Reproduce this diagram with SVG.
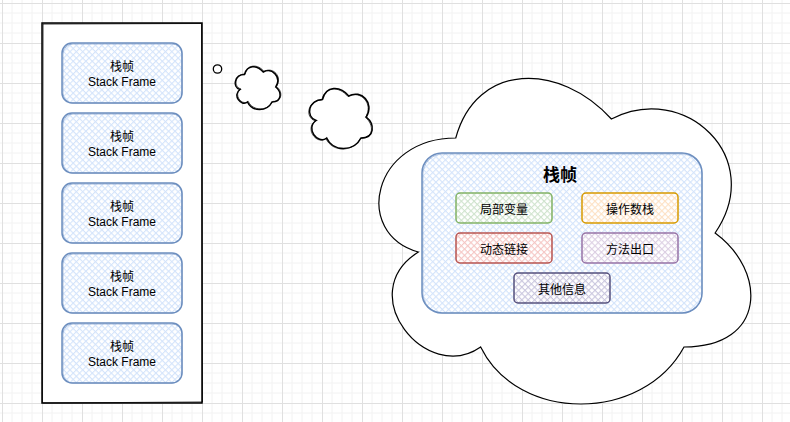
<svg xmlns="http://www.w3.org/2000/svg" width="790" height="422" viewBox="0 0 790 422">
<defs>
  <pattern id="grid" x="2" y="3" width="40" height="40" patternUnits="userSpaceOnUse">
    <path d="M10,0V40M20,0V40M30,0V40M0,10H40M0,20H40M0,30H40" stroke="#f2f2f2" stroke-width="1" fill="none"/>
    <path d="M0.5,0V40M0,0.5H40" stroke="#e0e0e0" stroke-width="1" fill="none"/>
  </pattern>
  <pattern id="hBlue" width="4.5" height="4.5" patternUnits="userSpaceOnUse" patternTransform="rotate(45)">
    <rect width="4.5" height="4.5" fill="#fff"/>
    <path d="M0,0.5H4.5M0.5,0V4.5" stroke="#d4e4fb" stroke-width="1.2"/>
  </pattern>
  <pattern id="hGreen" width="4.5" height="4.5" patternUnits="userSpaceOnUse" patternTransform="rotate(45)">
    <rect width="4.5" height="4.5" fill="#fff"/>
    <path d="M0,0.5H4.5M0.5,0V4.5" stroke="#cfe3cd" stroke-width="1.2"/>
  </pattern>
  <pattern id="hOrange" width="4.5" height="4.5" patternUnits="userSpaceOnUse" patternTransform="rotate(45)">
    <rect width="4.5" height="4.5" fill="#fff"/>
    <path d="M0,0.5H4.5M0.5,0V4.5" stroke="#fde1c4" stroke-width="1.2"/>
  </pattern>
  <pattern id="hRed" width="4.5" height="4.5" patternUnits="userSpaceOnUse" patternTransform="rotate(45)">
    <rect width="4.5" height="4.5" fill="#fff"/>
    <path d="M0,0.5H4.5M0.5,0V4.5" stroke="#f5c6c4" stroke-width="1.2"/>
  </pattern>
  <pattern id="hPurple" width="4.5" height="4.5" patternUnits="userSpaceOnUse" patternTransform="rotate(45)">
    <rect width="4.5" height="4.5" fill="#fff"/>
    <path d="M0,0.5H4.5M0.5,0V4.5" stroke="#dccfe3" stroke-width="1.2"/>
  </pattern>
  <pattern id="hSlate" width="4.5" height="4.5" patternUnits="userSpaceOnUse" patternTransform="rotate(45)">
    <rect width="4.5" height="4.5" fill="#fff"/>
    <path d="M0,0.5H4.5M0.5,0V4.5" stroke="#c9c6de" stroke-width="1.2"/>
  </pattern>
  <style>
    .t { font-family: "Liberation Sans", "Noto Sans CJK SC", sans-serif; font-size: 12px; fill: #000; text-anchor: middle; }
    .title { font-family: "Liberation Sans", "Noto Sans CJK SC", sans-serif; font-size: 17px; font-weight: bold; fill: #000; text-anchor: middle; }
    .frame { fill: url(#hBlue); stroke: #6c8ebf; stroke-width: 1.5; }
    .frame2 { fill: none; stroke: #6c8ebf; stroke-width: 0.8; opacity: 0.7; }
    .sk { fill: none; stroke: #000; }
    .cl { fill: #fff; stroke: #000; stroke-width: 1.5; }
    .cl2 { fill: none; stroke: #000; stroke-width: 0.9; opacity: 0.75; }
  </style>
</defs>

<rect width="790" height="422" fill="#fff"/>
<rect width="790" height="422" fill="url(#grid)"/>

<g id="stack">
  <rect x="42" y="23" width="160" height="380" fill="#fff" stroke="#000" stroke-width="1.5"/>
  <path class="sk" d="M43,24 L201.5,23.5 L202.5,402 L42.5,403 Z" stroke-width="0.8"/>
</g>

<g id="frame1">
  <rect class="frame" x="62" y="43" width="120" height="60" rx="10"/>
  <rect class="frame2" x="63" y="44" width="119" height="59" rx="10"/>
  <text class="t" x="122" y="71">栈帧</text>
  <text class="t" x="122" y="86">Stack Frame</text>
</g>
<g id="frame2">
  <rect class="frame" x="62" y="113" width="120" height="60" rx="10"/>
  <rect class="frame2" x="63" y="114" width="119" height="59" rx="10"/>
  <text class="t" x="122" y="141">栈帧</text>
  <text class="t" x="122" y="156">Stack Frame</text>
</g>
<g id="frame3">
  <rect class="frame" x="62" y="183" width="120" height="60" rx="10"/>
  <rect class="frame2" x="63" y="184" width="119" height="59" rx="10"/>
  <text class="t" x="122" y="211">栈帧</text>
  <text class="t" x="122" y="226">Stack Frame</text>
</g>
<g id="frame4">
  <rect class="frame" x="62" y="253" width="120" height="60" rx="10"/>
  <rect class="frame2" x="63" y="254" width="119" height="59" rx="10"/>
  <text class="t" x="122" y="281">栈帧</text>
  <text class="t" x="122" y="296">Stack Frame</text>
</g>
<g id="frame5">
  <rect class="frame" x="62" y="323" width="120" height="60" rx="10"/>
  <rect class="frame2" x="63" y="324" width="119" height="59" rx="10"/>
  <text class="t" x="122" y="351">栈帧</text>
  <text class="t" x="122" y="366">Stack Frame</text>
</g>

<g id="bubble1">
  <circle cx="217.5" cy="69" r="4.2" fill="#fff" stroke="#000" stroke-width="1.3"/>
</g>
<g id="bubble2">
  <path class="cl" d="M244.5,74.5 C234.5,74.5 232,87 240,89.5 C232,95 241,107 247.5,102 C252,112 267,112 272,102 C282,102 282,92 275.75,87 C282,77 272,67 263.25,72 C257,64.5 247,64.5 244.5,74.5 Z"/>
  <path class="cl2" transform="translate(0.8,-0.6)" d="M244.5,74.5 C234.5,74.5 232,87 240,89.5 C232,95 241,107 247.5,102 C252,112 267,112 272,102 C282,102 282,92 275.75,87 C282,77 272,67 263.25,72 C257,64.5 247,64.5 244.5,74.5 Z"/>
</g>
<g id="bubble3">
  <path class="cl" d="M322.5,99.5 C308.5,99.5 305,117 316.2,120.5 C305,128.2 317.6,145 326.7,138 C333,152 354,152 361,138 C375,138 375,124 366.25,117 C375,103 361,89 348.75,96 C340,85.5 326,85.5 322.5,99.5 Z"/>
  <path class="cl2" transform="translate(-0.8,0.5)" d="M322.5,99.5 C308.5,99.5 305,117 316.2,120.5 C305,128.2 317.6,145 326.7,138 C333,152 354,152 361,138 C375,138 375,124 366.25,117 C375,103 361,89 348.75,96 C340,85.5 326,85.5 322.5,99.5 Z"/>
</g>

<g id="bigCloud">
  <path d="M455.75,138 C372.75,138 352,233 418.4,252 C352,293.8 426.7,385 480.65,347 C518,423 642.5,423 684,347 C767,347 767,271 715.1,233 C767,157 684,81 611.4,119 C559.5,62 476.5,62 455.75,138 Z" fill="#fff" stroke="#000" stroke-width="1.2"/>
</g>

<g id="container">
  <rect x="422" y="153" width="280" height="160" rx="20" fill="url(#hBlue)" stroke="#6c8ebf" stroke-width="1.5"/>
  <rect x="423" y="154" width="279" height="159" rx="20" fill="none" stroke="#6c8ebf" stroke-width="0.8" opacity="0.6"/>
  <text class="title" x="560" y="181">栈帧</text>
</g>

<g id="local">
  <rect x="456" y="193" width="96" height="30" rx="4" fill="url(#hGreen)" stroke="#82b366" stroke-width="1.5"/>
  <text class="t" x="504" y="214">局部变量</text>
</g>
<g id="operand">
  <rect x="582" y="193" width="96" height="30" rx="4" fill="url(#hOrange)" stroke="#d79b00" stroke-width="1.5"/>
  <text class="t" x="630" y="214">操作数栈</text>
</g>
<g id="dynlink">
  <rect x="456" y="233" width="96" height="30" rx="4" fill="url(#hRed)" stroke="#b85450" stroke-width="1.5"/>
  <text class="t" x="504" y="254">动态链接</text>
</g>
<g id="exit">
  <rect x="582" y="233" width="96" height="30" rx="4" fill="url(#hPurple)" stroke="#9673a6" stroke-width="1.5"/>
  <text class="t" x="630" y="254">方法出口</text>
</g>
<g id="other">
  <rect x="514" y="273" width="96" height="30" rx="4" fill="url(#hSlate)" stroke="#56517e" stroke-width="1.5"/>
  <text class="t" x="562" y="294">其他信息</text>
</g>

<g id="connectors"></g>
</svg>
